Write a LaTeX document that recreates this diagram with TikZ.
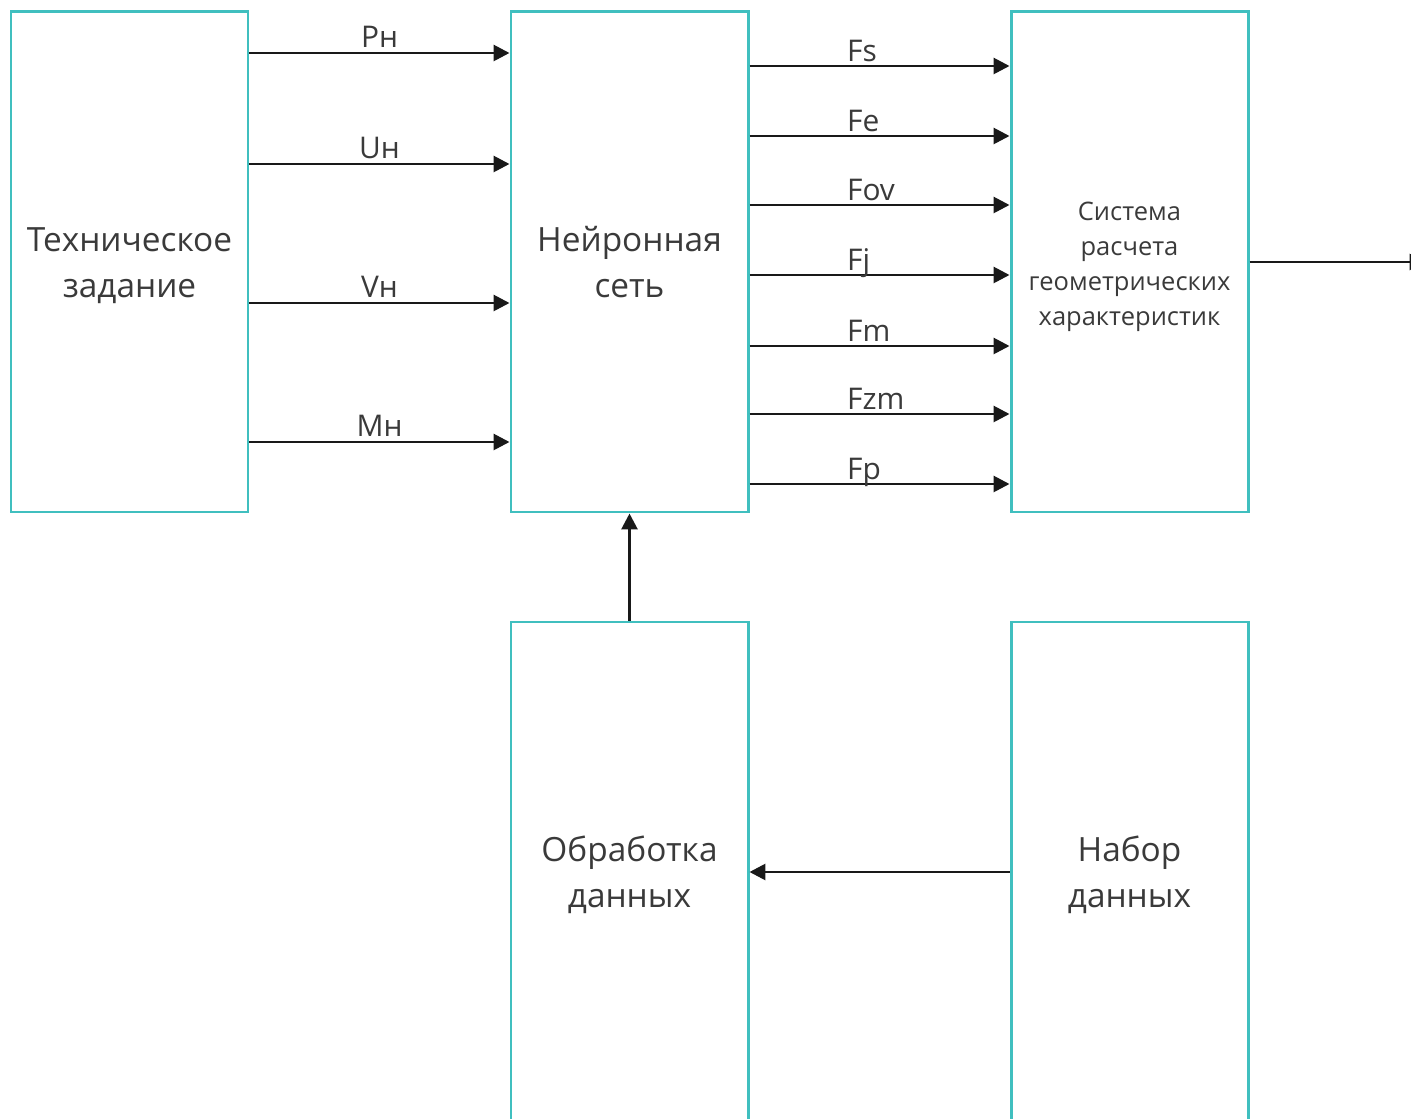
\documentclass[tikz,border=0pt]{standalone}
\usepackage{fontspec}
\setmainfont{Open Sans}
\usepackage{tikz}
\usetikzlibrary{arrows.meta,shapes,positioning}
\definecolor{boxteal}{HTML}{40BFBF}
\definecolor{txtgray}{HTML}{3A3A3A}
\tikzstyle{arrow}=[draw,line width=1.6pt,color=black!90,-{Triangle[length=9pt,width=9pt]}]
\tikzstyle{block}=[draw=boxteal,line width=1.7pt,minimum width=4.74cm,minimum height=10cm,align=center,text=txtgray,font=\fontsize{19}{26}\selectfont,text height=40.5pt,text depth=0pt]
\tikzstyle{lbl}=[text=txtgray,font=\fontsize{17}{19}\selectfont,inner sep=0pt]

\begin{document}
\begin{tikzpicture}[node distance=10cm]
\clip (0,0) rectangle (28.22,-22.38);
\node [block] (tz) at (2.59,-5.24) {Техническое\\задание};
\node [block,right of=tz] (ns) {Нейронная\\сеть};
\node [block,right of=ns,font=\fontsize{14.5}{20}\selectfont,text height=72.8pt] (sr) {Система\\расчета\\геометрических\\характеристик};
\node [block,below of=ns,node distance=12.2cm] (ob) {Обработка\\данных};
\node [block,right of=ob] (nd) {Набор\\данных};
\coordinate [right of=sr,node distance=5.92cm] (out);

\draw[arrow] ([yshift=4.18cm]tz.east) -- node[lbl,anchor=base,yshift=3pt]{Рн} ([yshift=4.18cm]ns.west);
\draw[arrow] ([yshift=1.96cm]tz.east) -- node[lbl,anchor=base,yshift=3pt]{Uн} ([yshift=1.96cm]ns.west);
\draw[arrow] ([yshift=-0.82cm]tz.east) -- node[lbl,anchor=base,yshift=3pt]{Vн} ([yshift=-0.82cm]ns.west);
\draw[arrow] ([yshift=-3.6cm]tz.east) -- node[lbl,anchor=base,yshift=3pt]{Mн} ([yshift=-3.6cm]ns.west);

\draw[arrow] ([yshift=3.92cm]ns.east) -- node[lbl,pos=0.37,anchor=base west,yshift=2.5pt]{Fs} ([yshift=3.92cm]sr.west);
\draw[arrow] ([yshift=2.52cm]ns.east) -- node[lbl,pos=0.37,anchor=base west,yshift=2.5pt]{Fe} ([yshift=2.52cm]sr.west);
\draw[arrow] ([yshift=1.14cm]ns.east) -- node[lbl,pos=0.37,anchor=base west,yshift=2.5pt]{Fov} ([yshift=1.14cm]sr.west);
\draw[arrow] ([yshift=-0.26cm]ns.east) -- node[lbl,pos=0.37,anchor=base west,yshift=2.5pt]{Fj} ([yshift=-0.26cm]sr.west);
\draw[arrow] ([yshift=-1.68cm]ns.east) -- node[lbl,pos=0.37,anchor=base west,yshift=2.5pt]{Fm} ([yshift=-1.68cm]sr.west);
\draw[arrow] ([yshift=-3.04cm]ns.east) -- node[lbl,pos=0.37,anchor=base west,yshift=2.5pt]{Fzm} ([yshift=-3.04cm]sr.west);
\draw[arrow] ([yshift=-4.44cm]ns.east) -- node[lbl,pos=0.37,anchor=base west,yshift=2.5pt]{Fp} ([yshift=-4.44cm]sr.west);

\draw[arrow] (sr.east) -- (out);
\draw[arrow] (ob.north) -- (ns.south);
\draw[arrow] (nd.west) -- (ob.east);
\end{tikzpicture}
\end{document}
